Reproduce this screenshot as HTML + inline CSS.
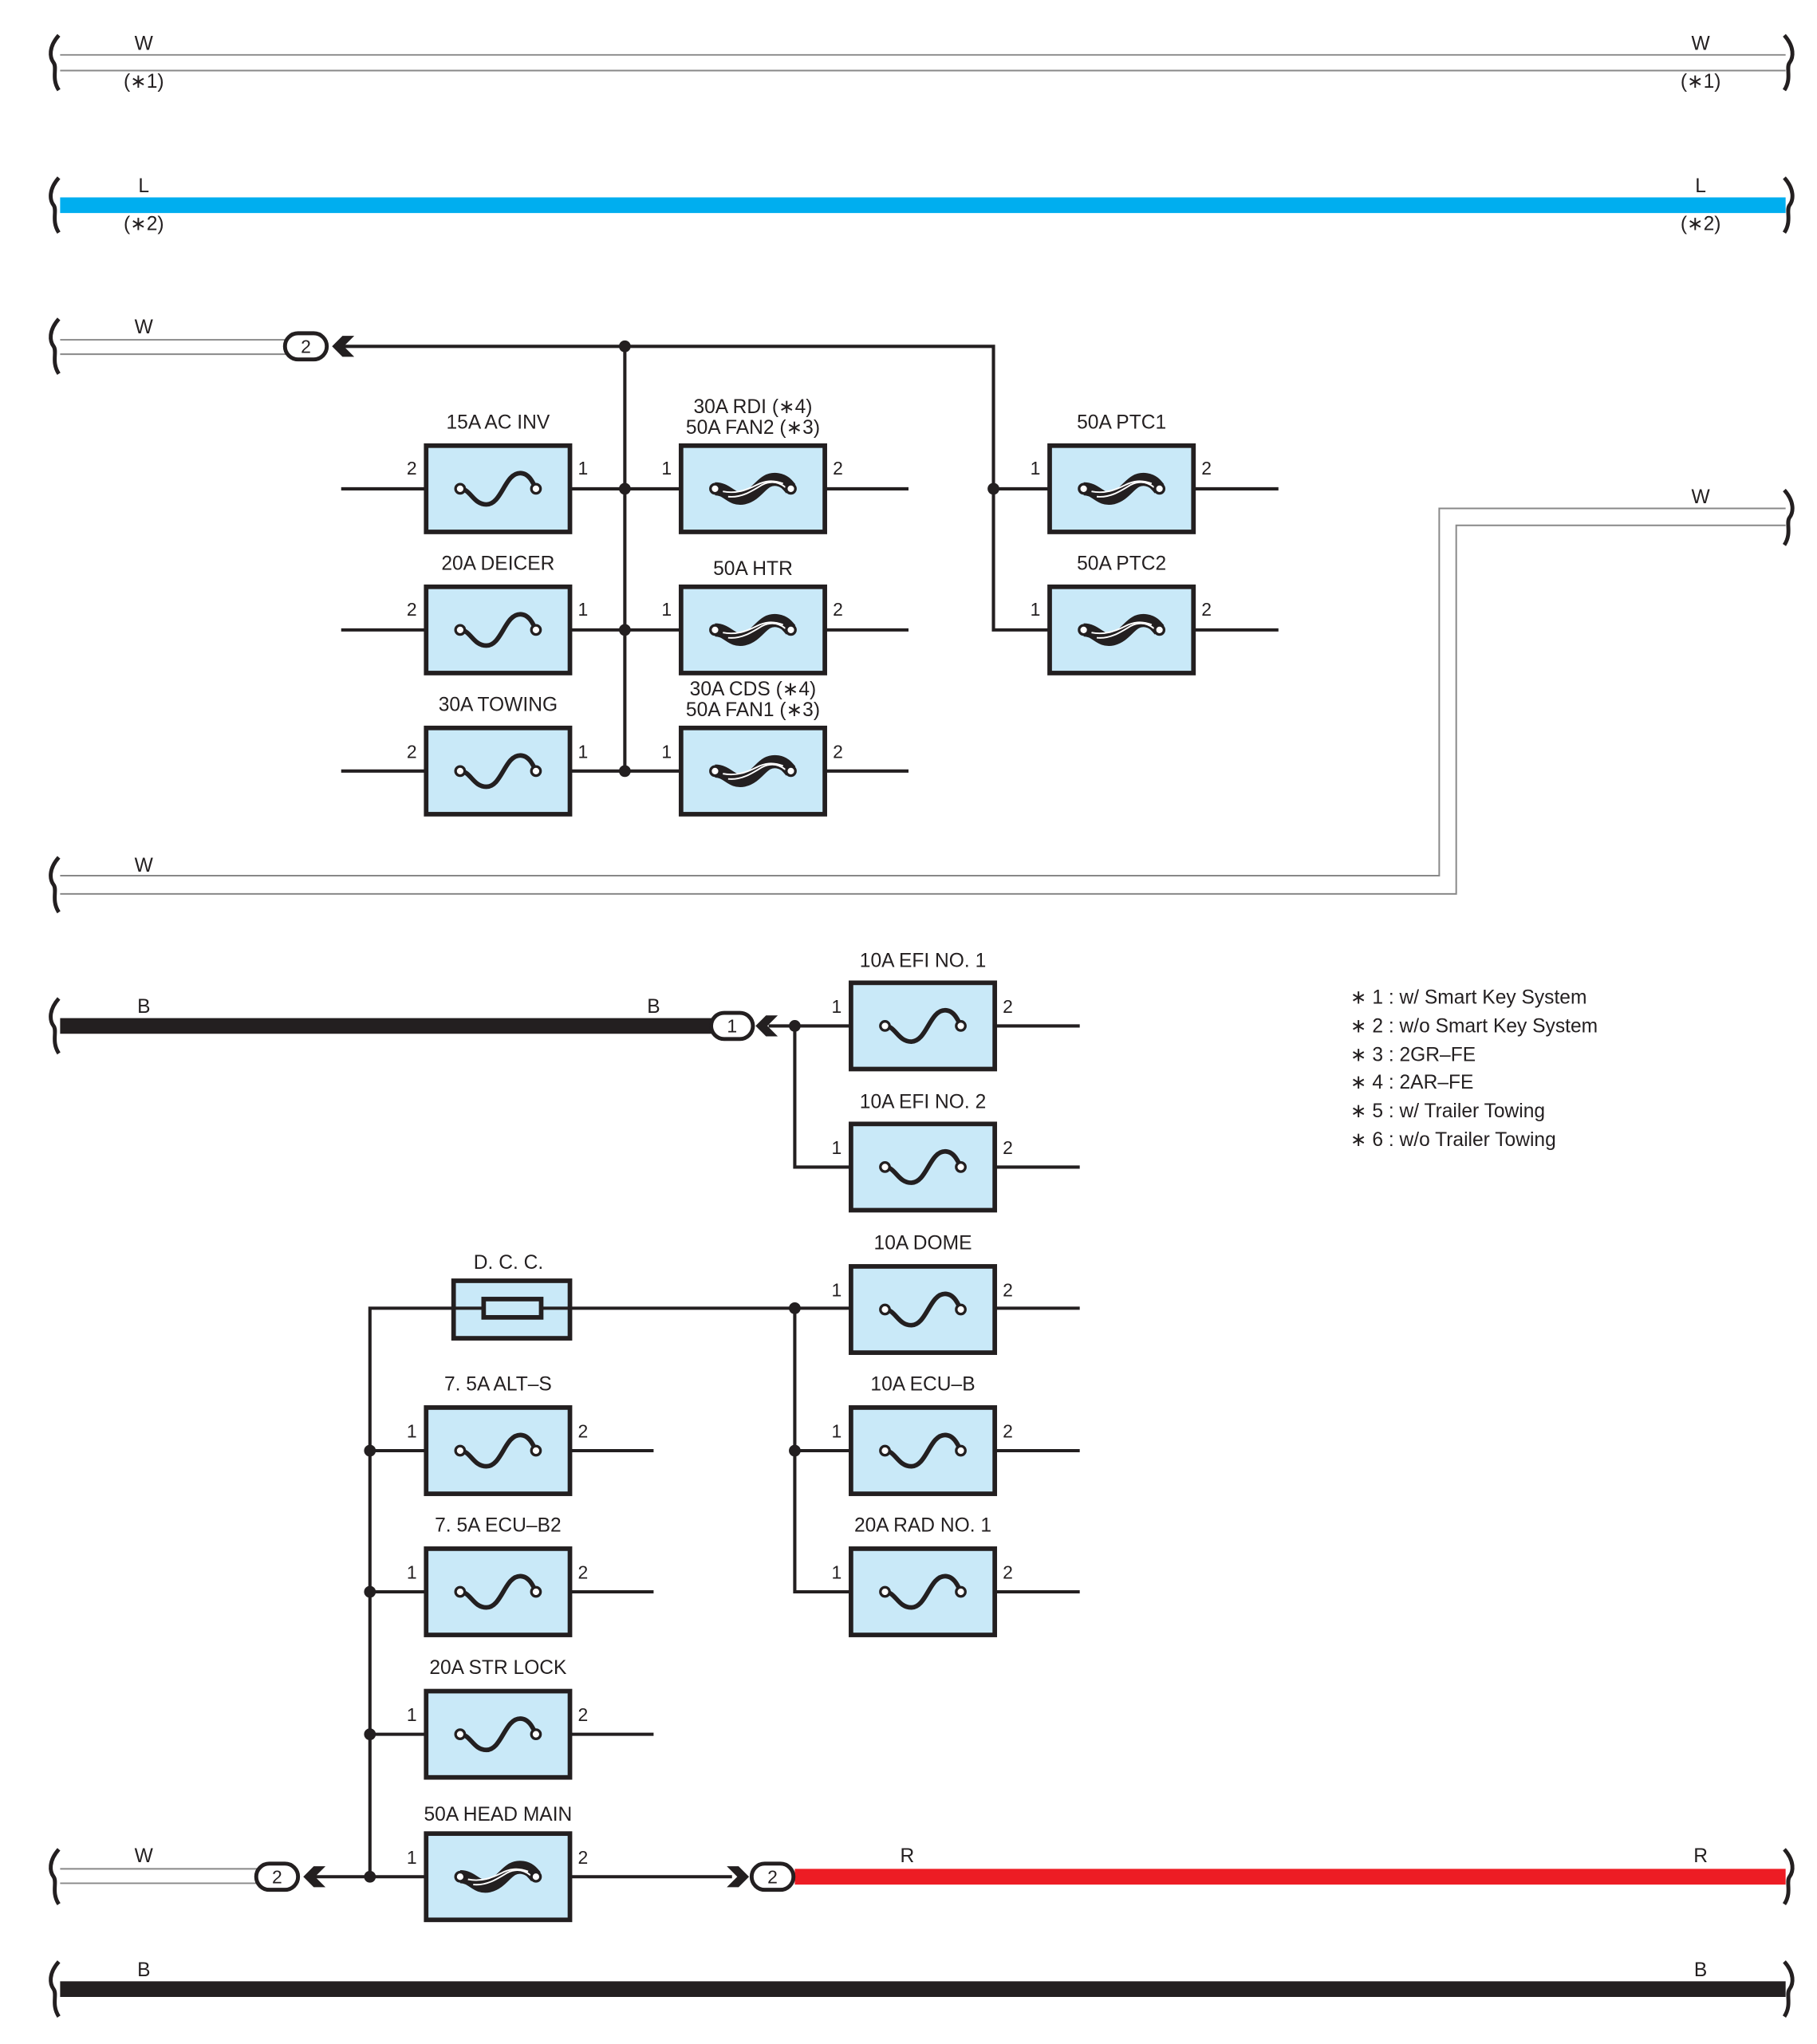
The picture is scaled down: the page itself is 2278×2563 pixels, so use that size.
<!DOCTYPE html>
<html><head><meta charset="utf-8"><style>
html,body{margin:0;padding:0;background:#fff;}
svg{display:block;}
text{font-family:"Liberation Sans",sans-serif;fill:#231f20;}
</style></head><body>
<svg width="2278" height="2563" viewBox="0 0 1390 1564" preserveAspectRatio="none" xmlns="http://www.w3.org/2000/svg">
<defs>
<g id="fs">
<rect x="0" y="0" width="110" height="66" fill="#c9e9f8" stroke="#231f20" stroke-width="3.5"/>
<path d="M26,33 C34,33 36,45 46,45 C58,45 60,21 72,21 C79,21 82,29 84,33" fill="none" stroke="#231f20" stroke-width="3.5"/>
<circle cx="26" cy="33" r="3.5" fill="#fff" stroke="#231f20" stroke-width="2"/>
<circle cx="84" cy="33" r="3.5" fill="#fff" stroke="#231f20" stroke-width="2"/>
</g>
<g id="fb">
<rect x="0" y="0" width="110" height="66" fill="#c9e9f8" stroke="#231f20" stroke-width="3.5"/>
<path d="M26,33 C36,33 38,42 48,40 C60,37 62,24 74,26 C80,27 82,31 84,33" fill="none" stroke="#231f20" stroke-width="10"/>
<path d="M32,35 C42,37 50,34 58,30 C64,27 70,26 78,29" fill="none" stroke="#fff" stroke-width="1.2"/>
<path d="M36,39 C46,40 54,35 62,30 C68,27 74,27 80,32" fill="none" stroke="#fff" stroke-width="1.2"/>
<circle cx="26" cy="33" r="3.5" fill="#fff" stroke="#231f20" stroke-width="2"/>
<circle cx="84" cy="33" r="3.5" fill="#fff" stroke="#231f20" stroke-width="2"/>
</g>
<path id="brL" d="M48,-21 C40,-12 41,-4 44,0 C47,4 42,12 48,21" fill="none" stroke="#231f20" stroke-width="3"/>
</defs>

<g fill="none" stroke="#231f20" stroke-width="3">
<!-- brackets -->
<use href="#brL" x="-3" y="48"/><use href="#brL" x="-3" y="157"/><use href="#brL" x="-3" y="265"/>
<use href="#brL" x="-3" y="677"/><use href="#brL" x="-3" y="785"/><use href="#brL" x="-3" y="1436"/><use href="#brL" x="-3" y="1522"/>
<g transform="translate(1413,0) scale(-1,1)">
<use href="#brL" x="0" y="48"/><use href="#brL" x="0" y="157"/><use href="#brL" x="0" y="396"/><use href="#brL" x="0" y="1436"/><use href="#brL" x="0" y="1522"/>
</g>
</g>

<!-- row 1 white wire -->
<g stroke="#888" stroke-width="1.2" fill="none">
<line x1="46" y1="42" x2="1366" y2="42"/><line x1="46" y1="54" x2="1366" y2="54"/>
<line x1="46" y1="260" x2="222" y2="260"/><line x1="46" y1="271" x2="222" y2="271"/>
<path d="M46,670 H1101 V389 H1366"/><path d="M46,684 H1114 V402 H1366"/>
<line x1="46" y1="1430" x2="198" y2="1430"/><line x1="46" y1="1441" x2="198" y2="1441"/>
</g>
<line x1="46" y1="157" x2="1366" y2="157" stroke="#00aeef" stroke-width="12"/>
<line x1="46" y1="785" x2="545" y2="785" stroke="#231f20" stroke-width="12"/>
<line x1="608" y1="1436" x2="1366" y2="1436" stroke="#ed1c24" stroke-width="12"/>
<line x1="46" y1="1522" x2="1366" y2="1522" stroke="#231f20" stroke-width="12"/>

<!-- black wires -->
<g stroke="#231f20" stroke-width="2.5" fill="none">
<path d="M262,265 H760 V482 H803"/>
<line x1="478" y1="265" x2="478" y2="590"/>
<line x1="261" y1="374" x2="695" y2="374"/><line x1="261" y1="482" x2="695" y2="482"/><line x1="261" y1="590" x2="695" y2="590"/>
<line x1="760" y1="374" x2="978" y2="374"/><line x1="913" y1="482" x2="978" y2="482"/>
<line x1="588" y1="785" x2="826" y2="785"/>
<path d="M608,785 V893 H826"/>
<path d="M283,1436 V1001 H826"/>
<path d="M608,1001 V1218 H826"/>
<line x1="608" y1="1110" x2="826" y2="1110"/>
<line x1="283" y1="1110" x2="500" y2="1110"/><line x1="283" y1="1218" x2="500" y2="1218"/><line x1="283" y1="1327" x2="500" y2="1327"/>
<line x1="240" y1="1436" x2="560" y2="1436"/>
</g>
<g fill="#231f20">
<circle cx="478" cy="265" r="4.5"/><circle cx="478" cy="374" r="4.5"/><circle cx="478" cy="482" r="4.5"/><circle cx="478" cy="590" r="4.5"/>
<circle cx="760" cy="374" r="4.5"/><circle cx="608" cy="785" r="4.5"/><circle cx="608" cy="1001" r="4.5"/><circle cx="608" cy="1110" r="4.5"/>
<circle cx="283" cy="1110" r="4.5"/><circle cx="283" cy="1218" r="4.5"/><circle cx="283" cy="1327" r="4.5"/><circle cx="283" cy="1436" r="4.5"/>
<!-- chevrons -->
<polygon points="254,265 262,257 271,257 263,265 271,273 262,273"/>
<polygon points="578,785 586,777 595,777 587,785 595,793 586,793"/>
<polygon points="232,1436 240,1428 249,1428 241,1436 249,1444 240,1444"/>
<polygon points="573,1436 565,1428 556,1428 564,1436 556,1444 565,1444"/>
</g>
<!-- connectors -->
<g fill="#fff" stroke="#231f20" stroke-width="3">
<rect x="218" y="255" width="32" height="20" rx="10"/>
<rect x="544" y="775" width="32" height="20" rx="10"/>
<rect x="196" y="1426" width="32" height="20" rx="10"/>
<rect x="575" y="1426" width="32" height="20" rx="10"/>
</g>
<g font-size="14" text-anchor="middle">
<text x="234" y="270">2</text><text x="560" y="790">1</text><text x="212" y="1441">2</text><text x="591" y="1441">2</text>
</g>

<!-- fuses -->
<use href="#fs" x="326" y="341"/><use href="#fs" x="326" y="449"/><use href="#fs" x="326" y="557"/>
<use href="#fb" x="521" y="341"/><use href="#fb" x="521" y="449"/><use href="#fb" x="521" y="557"/>
<use href="#fb" x="803" y="341"/><use href="#fb" x="803" y="449"/>
<use href="#fs" x="651" y="752"/><use href="#fs" x="651" y="860"/>
<use href="#fs" x="651" y="969"/><use href="#fs" x="651" y="1077"/><use href="#fs" x="651" y="1185"/>
<use href="#fs" x="326" y="1077"/><use href="#fs" x="326" y="1185"/><use href="#fs" x="326" y="1294"/>
<use href="#fb" x="326" y="1403"/>
<rect x="347" y="980" width="89" height="44" fill="#c9e9f8" stroke="#231f20" stroke-width="3.5"/>
<line x1="347" y1="1001" x2="436" y2="1001" stroke="#231f20" stroke-width="2.5"/>
<rect x="370" y="994" width="44" height="14" fill="#c9e9f8" stroke="#231f20" stroke-width="3.5"/>

<!-- labels -->
<g font-size="15" text-anchor="middle">
<text x="110" y="38">W</text><text x="110" y="67">(∗1)</text><text x="1301" y="38">W</text><text x="1301" y="67">(∗1)</text>
<text x="110" y="147">L</text><text x="110" y="176">(∗2)</text><text x="1301" y="147">L</text><text x="1301" y="176">(∗2)</text>
<text x="110" y="255">W</text><text x="110" y="667">W</text><text x="1301" y="385">W</text>
<text x="110" y="775">B</text><text x="500" y="775">B</text>
<text x="110" y="1425">W</text><text x="694" y="1425">R</text><text x="1301" y="1425">R</text>
<text x="110" y="1512">B</text><text x="1301" y="1512">B</text>
<text x="381" y="328">15A AC INV</text><text x="381" y="436">20A DEICER</text><text x="381" y="544">30A TOWING</text>
<text x="576" y="316">30A RDI (∗4)</text><text x="576" y="332">50A FAN2 (∗3)</text>
<text x="576" y="440">50A HTR</text>
<text x="576" y="532">30A CDS (∗4)</text><text x="576" y="548">50A FAN1 (∗3)</text>
<text x="858" y="328">50A PTC1</text><text x="858" y="436">50A PTC2</text>
<text x="706" y="740">10A EFI NO. 1</text><text x="706" y="848">10A EFI NO. 2</text>
<text x="706" y="956">10A DOME</text><text x="706" y="1064">10A ECU–B</text><text x="706" y="1172">20A RAD NO. 1</text>
<text x="389" y="971">D. C. C.</text>
<text x="381" y="1064">7. 5A ALT–S</text><text x="381" y="1172">7. 5A ECU–B2</text><text x="381" y="1281">20A STR LOCK</text><text x="381" y="1393">50A HEAD MAIN</text>
</g>
<g font-size="14" text-anchor="middle">
<text x="315" y="363">2</text><text x="446" y="363">1</text><text x="315" y="471">2</text><text x="446" y="471">1</text><text x="315" y="580">2</text><text x="446" y="580">1</text>
<text x="510" y="363">1</text><text x="641" y="363">2</text><text x="510" y="471">1</text><text x="641" y="471">2</text><text x="510" y="580">1</text><text x="641" y="580">2</text>
<text x="792" y="363">1</text><text x="923" y="363">2</text><text x="792" y="471">1</text><text x="923" y="471">2</text>
<text x="640" y="775">1</text><text x="771" y="775">2</text><text x="640" y="883">1</text><text x="771" y="883">2</text>
<text x="640" y="992">1</text><text x="771" y="992">2</text><text x="640" y="1100">1</text><text x="771" y="1100">2</text><text x="640" y="1208">1</text><text x="771" y="1208">2</text>
<text x="315" y="1100">1</text><text x="446" y="1100">2</text><text x="315" y="1208">1</text><text x="446" y="1208">2</text><text x="315" y="1317">1</text><text x="446" y="1317">2</text><text x="315" y="1426">1</text><text x="446" y="1426">2</text>
</g>
<g font-size="15">
<text x="1033" y="768">∗ 1 : w/ Smart Key System</text>
<text x="1033" y="790">∗ 2 : w/o Smart Key System</text>
<text x="1033" y="812">∗ 3 : 2GR–FE</text>
<text x="1033" y="833">∗ 4 : 2AR–FE</text>
<text x="1033" y="855">∗ 5 : w/ Trailer Towing</text>
<text x="1033" y="877">∗ 6 : w/o Trailer Towing</text>
</g>
</svg>
</body></html>
